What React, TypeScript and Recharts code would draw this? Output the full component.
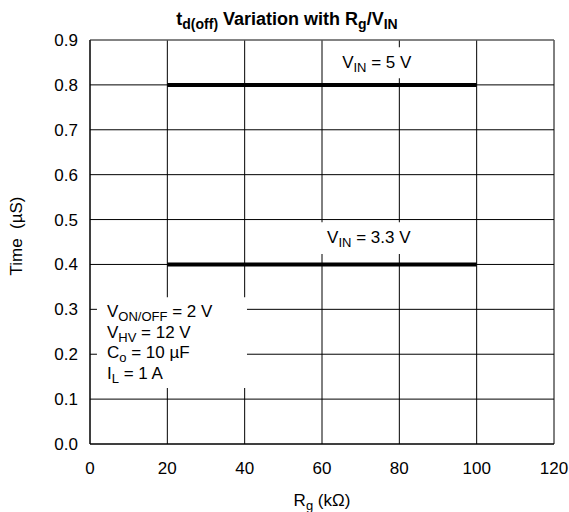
import { LineChart, Line, XAxis, YAxis, CartesianGrid, ReferenceArea, ReferenceLine } from "recharts";

const X_TICKS = [0, 20, 40, 60, 80, 100, 120];
const Y_TICKS = [0, 0.1, 0.2, 0.3, 0.4, 0.5, 0.6, 0.7, 0.8, 0.9];
const RG_KOHM = [20, 100];
const TD_OFF_VIN_5V = [0.8, 0.8];
const TD_OFF_VIN_3V3 = [0.4, 0.4];

const data5 = RG_KOHM.map((rg, i) => ({ rg, t: TD_OFF_VIN_5V[i] }));
const data33 = RG_KOHM.map((rg, i) => ({ rg, t: TD_OFF_VIN_3V3[i] }));

const FONT = "'Liberation Sans', Arial, Helvetica, sans-serif";
const FS = 17;
const SUB = 13;

// text with subscripts: parts alternate normal / subscript
function SubText({ x, y, parts, size = FS, subSize = SUB, weight = "normal", anchor = "start", transform }: any) {
  return (
    <text x={x} y={y} fontFamily={FONT} fontSize={size} fontWeight={weight} fill="#000" textAnchor={anchor} transform={transform}>
      {parts.map((p: string, i: number) =>
        i % 2 === 1 ? (
          <tspan key={i} fontSize={subSize} dy={4}>{p}</tspan>
        ) : (
          <tspan key={i} dy={i === 0 ? 0 : -4}>{p}</tspan>
        )
      )}
    </text>
  );
}

const label5 = ({ viewBox }: any) => (
  <SubText x={viewBox.x + 7} y={viewBox.y + 21} parts={["V", "IN", " = 5 V"]} />
);
const label33 = ({ viewBox }: any) => (
  <SubText x={viewBox.x + 7} y={viewBox.y + 21} parts={["V", "IN", " = 3.3 V"]} />
);
const labelCond = ({ viewBox }: any) => {
  const x = viewBox.x + 10;
  const y = viewBox.y + 20;
  return (
    <g>
      <SubText x={x} y={y} parts={["V", "ON/OFF", " = 2 V"]} />
      <SubText x={x} y={y + 20.5} parts={["V", "HV", " = 12 V"]} />
      <SubText x={x} y={y + 41} parts={["C", "o", " = 10 \u00b5F"]} />
      <SubText x={x} y={y + 61.5} parts={["I", "L", " = 1 A"]} />
    </g>
  );
};

export default function App() {
  return (
    <div style={{ position: "relative", width: 569, height: 512 }}>
      <style>{"body{margin:0;overflow:hidden}"}</style>
      <LineChart width={569} height={512} margin={{ top: 40, right: 15, bottom: 0, left: 0 }}>
        <CartesianGrid stroke="#000" strokeWidth={1} horizontalValues={Y_TICKS} verticalValues={X_TICKS} />
        <XAxis
          type="number"
          dataKey="rg"
          domain={[0, 120]}
          ticks={X_TICKS}
          height={68}
          tickSize={0}
          tickMargin={18}
          axisLine={{ stroke: "#000" }}
          tick={{ fill: "#000", fontSize: FS, fontFamily: FONT }}
          allowDataOverflow
        />
        <YAxis
          type="number"
          dataKey="t"
          domain={[0, 0.9]}
          ticks={Y_TICKS}
          width={90}
          tickSize={0}
          tickMargin={12}
          axisLine={{ stroke: "#000" }}
          tick={{ fill: "#000", fontSize: FS, fontFamily: FONT }}
          tickFormatter={(v: number) => v.toFixed(1)}
        />
        <ReferenceLine y={0.9} stroke="#888" strokeWidth={1} />
        <ReferenceArea x1={63.4} x2={86} y1={0.815} y2={0.884} fill="#fff" fillOpacity={1} stroke="none" label={label5} />
        <ReferenceArea x1={59.5} x2={98.5} y1={0.423} y2={0.494} fill="#fff" fillOpacity={1} stroke="none" label={label33} />
        <ReferenceArea x1={1.8} x2={40.6} y1={0.125} y2={0.327} fill="#fff" fillOpacity={1} stroke="none" label={labelCond} />
        <Line data={data5} dataKey="t" stroke="#000" strokeWidth={4} dot={false} isAnimationActive={false} />
        <Line data={data33} dataKey="t" stroke="#000" strokeWidth={4} dot={false} isAnimationActive={false} />
      </LineChart>
      <svg width={569} height={512} style={{ position: "absolute", left: 0, top: 0, pointerEvents: "none" }}>
        <SubText x={287} y={25} anchor="middle" weight="bold" size={18} subSize={14} parts={["t", "d(off)", " Variation with R", "g", "/V", "IN", ""]} />
        <text x={22} y={236} transform="rotate(-90 22 236)" textAnchor="middle" fontFamily={FONT} fontSize={FS} fill="#000">
          {"Time\u00a0\u00a0(\u00b5S)"}
        </text>
        <SubText x={322} y={506} anchor="middle" parts={["R", "g", " (k\u03a9)"]} />
      </svg>
    </div>
  );
}
